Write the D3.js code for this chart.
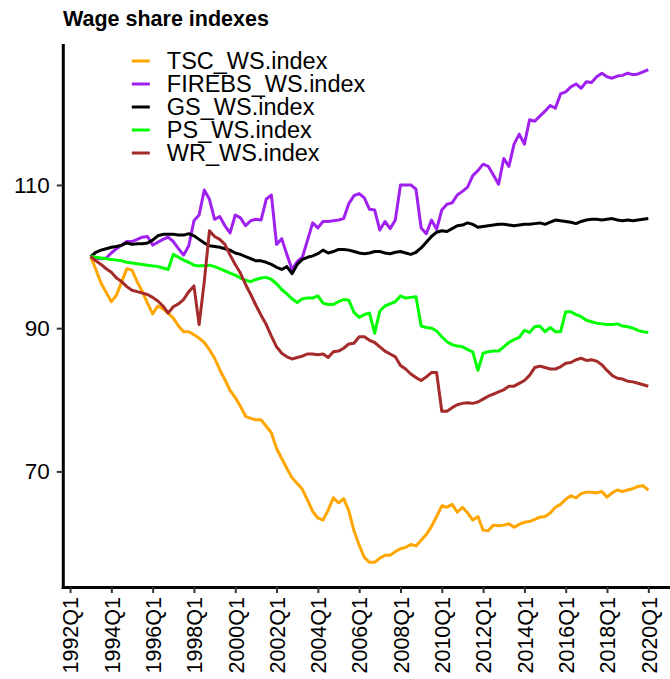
<!DOCTYPE html>
<html>
<head>
<meta charset="utf-8">
<script src="https://cdn.jsdelivr.net/npm/d3@7"></script>
<style>
	body { margin: 0; background: #fff; }
	svg text { font-family: "Liberation Sans", Arial, Helvetica, sans-serif; }
</style>
</head>
<body>
<div id="chart"></div>
<script>

// quarterly series, first value is 1993Q1
var firstQuarter = "1993Q1";

var tickLabels = ["1992Q1", "1994Q1", "1996Q1", "1998Q1", "2000Q1", "2002Q1", "2004Q1",
	"2006Q1", "2008Q1", "2010Q1", "2012Q1", "2014Q1", "2016Q1", "2018Q1", "2020Q1"];
var yTicks = [70, 90, 110];

var seriesNames = ["TSC_WS.index", "FIREBS_WS.index", "GS_WS.index", "PS_WS.index", "WR_WS.index"];
var seriesColors = ["#FFA500", "#A020F0", "#000000", "#00FF00", "#A52A2A"];

var tscWS = [100, 98.2, 96.3, 95, 93.7, 94.6, 96.5, 98.3, 98.1, 96.5,
	95.1, 93.5, 92, 93.1, 92.7, 92.1, 91.4, 90.3, 89.5, 89.5,
	89.1, 88.6, 88, 87, 85.8, 84.2, 82.8, 81.3, 80.3, 79.1,
	77.7, 77.4, 77.2, 77.2, 76.3, 75.4, 73.2, 71.8, 70.4, 69.1,
	68.3, 67.5, 66, 64.4, 63.5, 63.2, 64.6, 66.3, 65.6, 66.2,
	64.5, 61.7, 59.7, 58, 57.3, 57.3, 57.9, 58.3, 58.3, 58.8,
	59.2, 59.4, 59.8, 59.6, 60.4, 61.2, 62.3, 63.7, 65.2, 65,
	65.4, 64.3, 65, 64.2, 63.2, 63.7, 61.8, 61.7, 62.5, 62.4,
	62.5, 62.7, 62.2, 62.6, 62.9, 63, 63.3, 63.6, 63.7, 64.2,
	65, 65.4, 66.1, 66.6, 66.3, 66.9, 67.1, 67.1, 67, 67.2,
	66.4, 67, 67.4, 67.2, 67.4, 67.6, 67.9, 68, 67.4];

var firebsWS = [100, 99.8, 99.7, 99.8, 100.5, 101.1, 101.6, 102.1, 102.1, 102.4,
	102.7, 102.8, 101.6, 102, 102.4, 102.7, 102.1, 101.1, 100.2, 101.5,
	105, 105.8, 109.3, 108, 105.2, 105.6, 104.3, 103.3, 105.8, 105.4,
	104.3, 105, 105.2, 105.1, 108, 108.6, 101.7, 102.5, 100.3, 98.2,
	99.3, 99.9, 102.3, 104.7, 104, 104.9, 104.9, 105, 105.1, 105.3,
	107.4, 108.5, 108.8, 108.2, 106.6, 106.5, 103.7, 104.9, 103.9, 105.1,
	110, 110, 110, 109.4, 104, 103.2, 105.1, 103.8, 106.5, 107.3,
	107.5, 108.6, 109.1, 109.7, 111.3, 112, 112.9, 112.6, 111.4, 110.1,
	113.7, 112.6, 115.7, 117.1, 115.7, 119.1, 118.9, 119.6, 120.3, 121.1,
	120.7, 122.7, 123, 123.7, 124.1, 123.5, 124.4, 124.3, 125.1, 125.6,
	125.1, 124.9, 125.2, 125.3, 125.6, 125.4, 125.5, 125.8, 126.1];

var gsWS = [100, 100.6, 100.9, 101.1, 101.3, 101.4, 101.6, 101.9, 101.7, 101.8,
	101.8, 101.9, 102.3, 102.9, 103.1, 103.1, 103.1, 103, 103, 103.2,
	102.9, 102.4, 101.9, 101.5, 101.4, 101.3, 101.1, 100.9, 100.5, 100.3,
	100, 99.7, 99.4, 99.4, 99.2, 98.9, 98.5, 98.2, 98.6, 97.6,
	98.9, 99.6, 99.9, 100.1, 100.4, 100.9, 100.5, 100.7, 101, 101,
	100.9, 100.7, 100.5, 100.4, 100.5, 100.7, 100.7, 100.5, 100.4, 100.6,
	100.7, 100.5, 100.3, 100.6, 101.2, 102, 102.8, 103.4, 103.6, 103.5,
	103.9, 104.3, 104.4, 104.7, 104.5, 104.1, 104.2, 104.3, 104.4, 104.5,
	104.5, 104.4, 104.3, 104.4, 104.5, 104.5, 104.6, 104.7, 104.5, 104.8,
	105.1, 105, 104.9, 104.8, 104.6, 104.9, 105.1, 105.2, 105.2, 105.1,
	105.2, 105.3, 105.1, 105, 105.1, 105, 105.1, 105.2, 105.3];

var psWS = [100, 99.9, 99.8, 99.7, 99.6, 99.5, 99.4, 99.2, 99.1, 99,
	98.9, 98.8, 98.7, 98.6, 98.4, 98.2, 100.3, 99.9, 99.5, 99.2,
	98.8, 98.7, 98.7, 98.8, 98.6, 98.3, 98, 97.7, 97.4, 97,
	96.7, 96.5, 96.8, 97, 97.1, 96.8, 96.2, 95.4, 94.8, 94.1,
	93.6, 94.1, 94.2, 94.2, 94.5, 93.5, 93.3, 93.3, 93.7, 94,
	93.9, 92.2, 91.5, 91.9, 92.1, 89.3, 92.4, 93.1, 93.4, 93.7,
	94.5, 94.2, 94.3, 94.4, 90.3, 90.1, 90, 89.6, 88.8, 88.1,
	87.7, 87.5, 87.4, 87, 86.7, 84.1, 86.5, 86.7, 86.8, 86.8,
	87.4, 88, 88.4, 88.7, 89.7, 89.4, 90.2, 90.3, 89.5, 90.1,
	89.5, 89.5, 92.3, 92.3, 91.9, 91.6, 91.1, 90.9, 90.7, 90.6,
	90.5, 90.5, 90.6, 90.3, 90.2, 90, 89.7, 89.5, 89.4];

var wrWS = [100, 99.4, 98.9, 98.3, 97.8, 97, 96.5, 95.8, 95.3, 95.1,
	94.9, 94.7, 94.3, 93.8, 93.1, 92.1, 93, 93.4, 94, 95.1,
	95.9, 90.5, 96.5, 103.6, 102.8, 102.4, 101.7, 100.2, 98.9, 97.7,
	96.1, 94.7, 93.2, 91.8, 90.5, 88.9, 87.4, 86.5, 86, 85.7,
	85.9, 86.1, 86.4, 86.4, 86.3, 86.4, 85.9, 86.7, 86.8, 87.2,
	87.8, 87.9, 88.8, 88.8, 88.3, 88, 87.4, 86.8, 86.4, 86,
	84.8, 84.3, 83.6, 83.1, 82.7, 83.2, 83.8, 83.8, 78.4, 78.4,
	78.9, 79.3, 79.5, 79.6, 79.5, 79.7, 80.1, 80.5, 80.8, 81.1,
	81.4, 81.9, 81.9, 82.3, 82.7, 83.4, 84.5, 84.7, 84.5, 84.3,
	84.3, 84.6, 85.1, 85.2, 85.6, 85.8, 85.5, 85.6, 85.4, 84.9,
	84.1, 83.4, 83, 82.9, 82.6, 82.5, 82.3, 82.1, 81.9];

var allSeries = [tscWS, firebsWS, gsWS, psWS, wrWS];

// "1993Q1" -> running quarter number
function quarterNum(str) {
	return +str.substr(0, 4) * 4 + (+str.substr(5, 1) - 1);
}

var q0 = quarterNum(firstQuarter);

// define margins
var margin = { top: 45, right: 0, bottom: 92, left: 62.8 },
	width = 670 - margin.left,
	height = 679 - margin.top - margin.bottom;

var svg = d3.select("#chart")
		.append("svg")
		.attr("width", 670)
		.attr("height", 679);

var g = svg.append("g")
		.attr("transform", "translate(" + margin.left + "," + margin.top + ")");

// x and y extents with 5% padding on both sides
var xExt = [q0, q0 + tscWS.length - 1];
var xPad = (xExt[1] - xExt[0]) * 0.05;
var yMin = d3.min(allSeries, function(s) { return d3.min(s); });
var yMax = d3.max(allSeries, function(s) { return d3.max(s); });
var yPad = (yMax - yMin) * 0.05;

// panel is wider than the picture, its right edge is cut off
var panelWidth = 613.4;

var x = d3.scaleLinear()
	.domain([xExt[0] - xPad, xExt[1] + xPad])
	.range([0, panelWidth]);

var y = d3.scaleLinear()
	.domain([yMin - yPad, yMax + yPad])
	.range([height, 0]);

var line = d3.line()
	.x(function(d, i) { return x(q0 + i); })
	.y(function(d) { return y(d); });

// the lines
allSeries.forEach(function(s, k) {
	g.append("path")
		.datum(s)
		.attr("fill", "none")
		.attr("stroke", seriesColors[k])
		.attr("stroke-width", 3)
		.attr("stroke-linejoin", "round")
		.attr("d", line);
});

// x axis
var xAxis = g.append("g")
	.attr("transform", "translate(0," + height + ")")
	.call(d3.axisBottom(x)
		.tickValues(tickLabels.map(quarterNum))
		.tickFormat(function(d, i) { return tickLabels[i]; })
		.tickSize(6)
		.tickSizeOuter(0));

xAxis.selectAll("text")
	.attr("transform", "rotate(-90)")
	.attr("text-anchor", "end")
	.attr("x", -10)
	.attr("y", 0)
	.attr("dy", "0.36em")
	.style("font-size", "21.5px")
	.attr("fill", "#000");

// y axis
var yAxis = g.append("g")
	.call(d3.axisLeft(y)
		.tickValues(yTicks)
		.tickSize(6)
		.tickPadding(7)
		.tickSizeOuter(0));

yAxis.selectAll("text")
	.style("font-size", "22.5px")
	.attr("fill", "#000");

svg.selectAll(".domain")
	.attr("stroke", "#000")
	.attr("stroke-width", 3)
	.attr("stroke-linecap", "square");
svg.selectAll(".tick line")
	.attr("stroke", "#333")
	.attr("stroke-width", 2);

// legend
var legend = g.append("g")
	.attr("transform", "translate(69,16)");

seriesNames.forEach(function(name, k) {
	var row = legend.append("g")
		.attr("transform", "translate(0," + (k * 23) + ")");
	row.append("line")
		.attr("x1", 0).attr("x2", 18)
		.attr("stroke", seriesColors[k])
		.attr("stroke-width", 3);
	row.append("text")
		.attr("x", 35)
		.attr("dy", "0.36em")
		.style("font-size", "23.5px")
		.text(name);
});

// title
svg.append("text")
	.attr("x", 63)
	.attr("y", 26)
	.style("font-size", "21.5px")
	.style("font-weight", "bold")
	.text("Wage share indexes");

</script>
</body>
</html>
